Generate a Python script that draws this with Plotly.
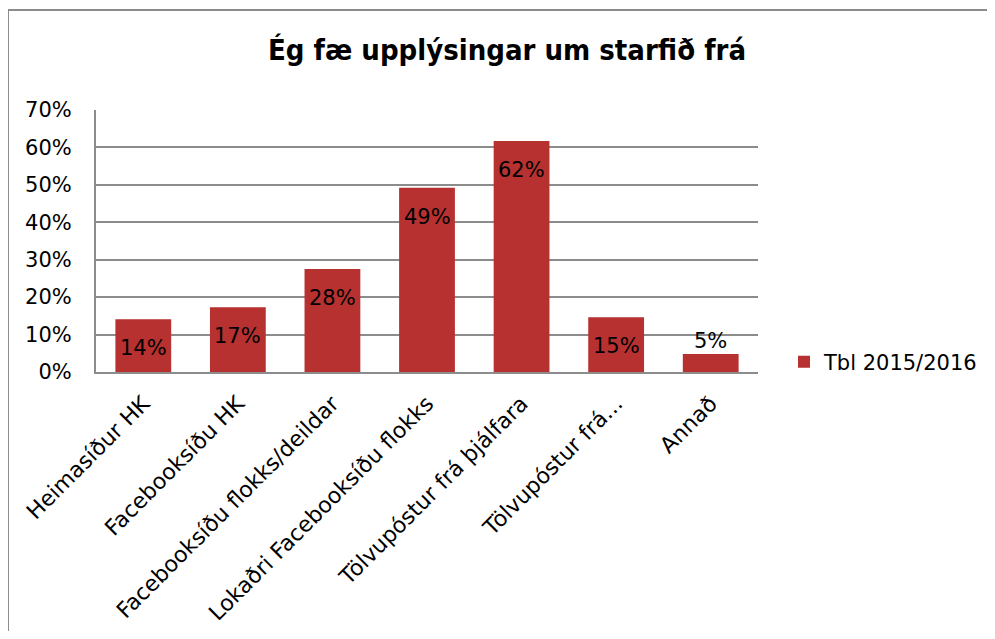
import plotly.graph_objects as go

categories = ["Heimasíður HK", "Facebooksíðu HK", "Facebooksíðu flokks/deildar",
              "Lokaðri Facebooksíðu flokks", "Tölvupóstur frá þjálfara",
              "Tölvupóstur frá...", "Annað"]
values = [0.141, 0.173, 0.275, 0.492, 0.617, 0.146, 0.048]
series_name = "Tbl 2015/2016"
title_text = "Ég fæ upplýsingar um starfið frá"
y_ticks = [0, 0.1, 0.2, 0.3, 0.4, 0.5, 0.6, 0.7]

# page has an 8px body margin; figure coordinates = screen - 8
OFF = 8
W, H = 979, 623
L, R, T, B = 96 - OFF, 758 - OFF, 110 - OFF, 372 - OFF

font_main = "'DejaVu Sans', sans-serif"
FS = 21

fig = go.Figure()
fig.add_trace(go.Bar(
    x=categories, y=values, name=series_name,
    marker=dict(color="#b73131", line=dict(width=0)),
    width=0.59,
    showlegend=True,
))

# data labels, positioned from the data values
for c, v in zip(categories, values):
    inside = v > 0.1
    fig.add_annotation(
        x=c, y=v, xref="x", yref="y", text=f"{v:.0%}", showarrow=False,
        yanchor="middle", yshift=-29 if inside else 13,
        font=dict(family=font_main, size=FS, color="#000000"),
    )

px = lambda x: (x - OFF - L) / (R - L)
py = lambda y: (B - (y - OFF)) / (B - T)

fig.update_layout(
    width=W, height=H,
    margin=dict(l=L, r=W - R, t=T, b=H - B, autoexpand=False),
    paper_bgcolor="white", plot_bgcolor="white",
    title=dict(text=title_text, x=(507 - OFF) / W, xanchor="center",
               y=1 - (50 - OFF) / H, yanchor="middle",
               xref="container", yref="container",
               font=dict(family="'DejaVu Sans Condensed', 'DejaVu Sans', sans-serif",
                         size=29, weight="bold", color="#000000")),
    legend=dict(x=px(784), y=py(362), xanchor="left", yanchor="middle",
                font=dict(family=font_main, size=FS, color="#000000"),
                bgcolor="rgba(0,0,0,0)"),
    xaxis=dict(tickangle=-45, tickfont=dict(family=font_main, size=22, color="#000000"),
               showline=True, linecolor="#8c8c8c", linewidth=2, automargin=False,
               ticks="", ticklabelstandoff=8),
    yaxis=dict(range=[0, 0.7], tickvals=y_ticks, tickformat=".0%",
               tickfont=dict(family=font_main, size=FS, color="#000000"),
               showgrid=True, gridcolor="#8c8c8c", gridwidth=1.5,
               showline=True, linecolor="#8c8c8c", linewidth=2, zeroline=False,
               ticks="", ticklabelstandoff=18, automargin=False),
    shapes=[
        dict(type="line", xref="paper", yref="paper", x0=px(8), x1=px(8), y0=py(10), y1=py(700),
             line=dict(color="#8c8c8c", width=2)),
        dict(type="line", xref="paper", yref="paper", x0=px(8), x1=px(1100), y0=py(10), y1=py(10),
             line=dict(color="#8c8c8c", width=2)),
    ],
)

fig.write_html("out.html")
